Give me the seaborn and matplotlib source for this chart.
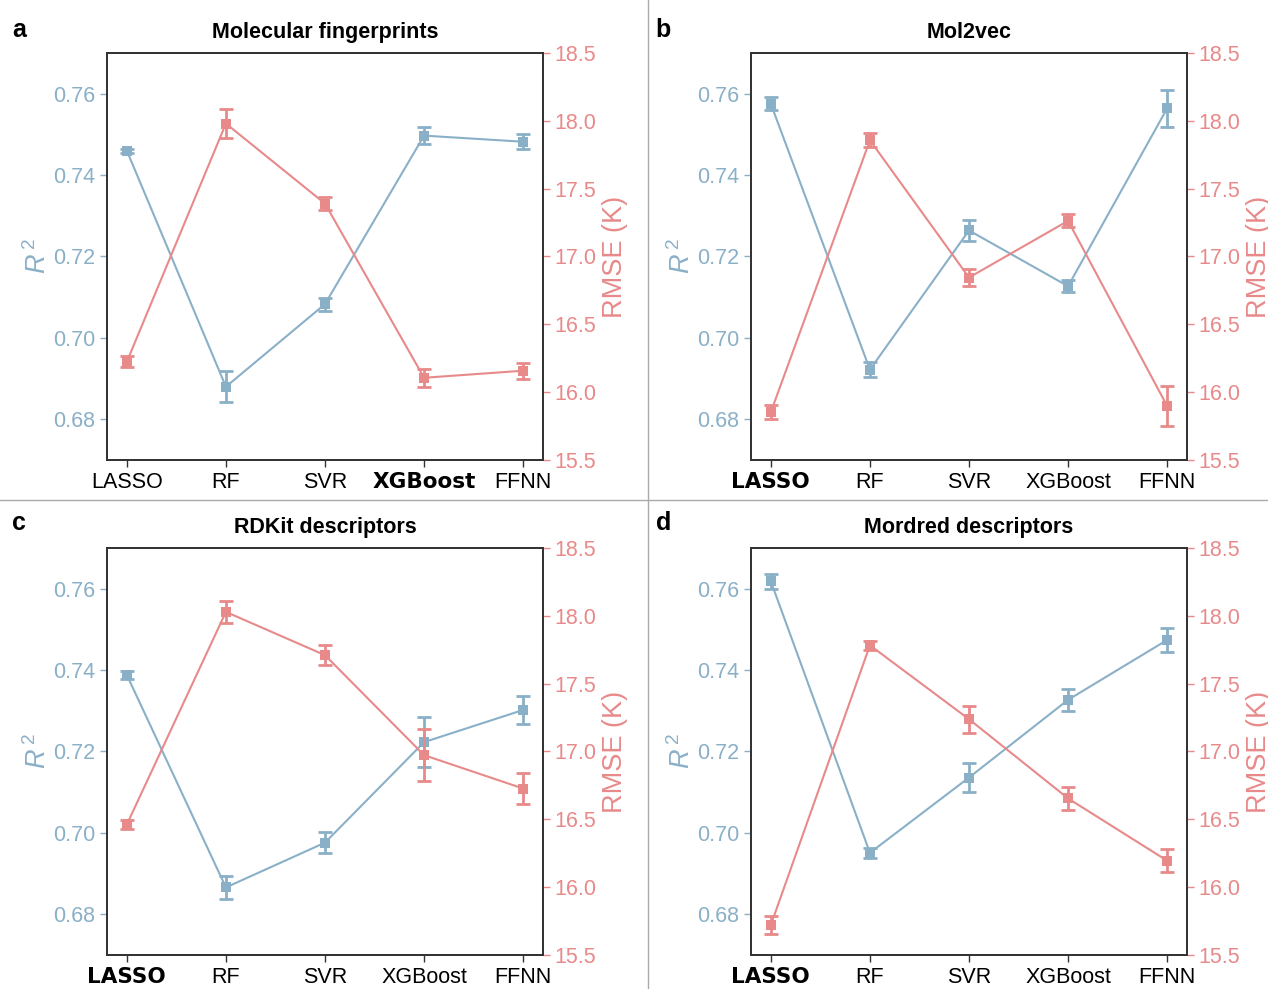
# R2 / RMSE comparison across featurizations and models

import numpy as np
import matplotlib
matplotlib.use('Agg')
import matplotlib.pyplot as plt
import seaborn as sns
from matplotlib.lines import Line2D

sns.set_style('white')
plt.rcParams['font.family'] = ['Liberation Sans', 'DejaVu Sans']
plt.rcParams['mathtext.fontset'] = 'custom'
plt.rcParams['mathtext.rm'] = 'Liberation Sans'
plt.rcParams['mathtext.it'] = 'Liberation Sans:italic'

models = ['LASSO', 'RF', 'SVR', 'XGBoost', 'FFNN']
titles = ['Molecular fingerprints', 'Mol2vec', 'RDKit descriptors', 'Mordred descriptors']
panel_letters = ['a', 'b', 'c', 'd']
best_model = ['XGBoost', 'LASSO', 'LASSO', 'LASSO']

# R2 mean and error, per panel
r2_fp = [0.7460, 0.6880, 0.7083, 0.7497, 0.7482]
r2_fp_err = [0.0005, 0.0038, 0.0016, 0.0020, 0.0018]
r2_m2v = [0.7575, 0.6922, 0.7264, 0.7127, 0.7564]
r2_m2v_err = [0.0016, 0.0018, 0.0025, 0.0015, 0.0046]
r2_rdkit = [0.7388, 0.6866, 0.6976, 0.7223, 0.7302]
r2_rdkit_err = [0.0009, 0.0029, 0.0026, 0.0062, 0.0035]
r2_mordred = [0.7618, 0.6951, 0.7136, 0.7327, 0.7474]
r2_mordred_err = [0.0019, 0.0013, 0.0035, 0.0027, 0.0029]

# RMSE (K) mean and error, per panel
rmse_fp = [16.224, 17.980, 17.390, 16.106, 16.158]
rmse_fp_err = [0.040, 0.110, 0.050, 0.065, 0.060]
rmse_m2v = [15.853, 17.857, 16.845, 17.263, 15.898]
rmse_m2v_err = [0.053, 0.050, 0.066, 0.048, 0.150]
rmse_rdkit = [16.462, 18.029, 17.710, 16.973, 16.727]
rmse_rdkit_err = [0.030, 0.080, 0.075, 0.190, 0.115]
rmse_mordred = [15.721, 17.783, 17.238, 16.654, 16.195]
rmse_mordred_err = [0.064, 0.034, 0.100, 0.086, 0.086]

r2_all = [(r2_fp, r2_fp_err), (r2_m2v, r2_m2v_err), (r2_rdkit, r2_rdkit_err), (r2_mordred, r2_mordred_err)]
rmse_all = [(rmse_fp, rmse_fp_err), (rmse_m2v, rmse_m2v_err), (rmse_rdkit, rmse_rdkit_err), (rmse_mordred, rmse_mordred_err)]

blue = '#8ab0c8'
red = '#e8898a'
spine_col = '#333333'

fig = plt.figure(figsize=(12.68, 9.89), dpi=100)

positions = [
    [0.0844, 0.5349, 0.3438, 0.4115],
    [0.5923, 0.5349, 0.3438, 0.4115],
    [0.0844, 0.0344, 0.3438, 0.4115],
    [0.5923, 0.0344, 0.3438, 0.4115],
]
letter_xy = [(0.0095, 0.970), (0.517, 0.970), (0.0095, 0.471), (0.517, 0.471)]

for i in range(4):
    ax = fig.add_axes(positions[i])
    ax2 = ax.twinx()

    r2, r2_err = r2_all[i]
    rmse, rmse_err = rmse_all[i]

    # R2 series
    sns.lineplot(x=models, y=r2, ax=ax, color=blue, marker='s', markersize=6.5,
                 markeredgewidth=0, linewidth=1.5, sort=False)
    ax.errorbar(models, r2, yerr=r2_err, fmt='none', ecolor=blue,
                elinewidth=2, capsize=5, capthick=2)

    # RMSE series
    sns.lineplot(x=models, y=rmse, ax=ax2, color=red, marker='s', markersize=6.5,
                 markeredgewidth=0, linewidth=1.5, sort=False)
    ax2.errorbar(models, rmse, yerr=rmse_err, fmt='none', ecolor=red,
                 elinewidth=2, capsize=5, capthick=2)

    ax.set_xlim(-0.2, 4.2)
    ax.set_ylim(0.67, 0.77)
    ax.set_yticks([0.68, 0.70, 0.72, 0.74, 0.76])
    ax.set_yticklabels(['0.68', '0.70', '0.72', '0.74', '0.76'])
    ax2.set_ylim(15.5, 18.5)
    ax2.set_yticks([15.5, 16.0, 16.5, 17.0, 17.5, 18.0, 18.5])
    ax2.set_yticklabels(['15.5', '16.0', '16.5', '17.0', '17.5', '18.0', '18.5'])

    ax.tick_params(axis='y', colors=blue, labelsize=15.5, length=5, width=1, direction='out', left=True)
    ax.tick_params(axis='x', colors=spine_col, labelcolor='black', labelsize=15.5, length=5, width=1,
                   direction='out', bottom=True)
    ax2.tick_params(axis='y', colors=red, labelsize=15.5, length=5, width=1, direction='out', right=True)

    for lbl in ax.get_xticklabels():
        if lbl.get_text() == best_model[i]:
            lbl.set_fontweight('bold')
            lbl.set_family('DejaVu Sans')

    ax.set_xlabel('')
    ax.set_ylabel('$\\mathit{R}^{\\,2}$', color=blue, fontsize=19.5, labelpad=1)
    ax2.set_ylabel('RMSE (K)', color=red, fontsize=19.5, labelpad=4)

    for a in (ax, ax2):
        for s in a.spines.values():
            s.set_color(spine_col)
            s.set_linewidth(1.3)

    ax.set_title(titles[i], fontsize=15.5, fontweight='bold', color='black', pad=11)
    fig.text(letter_xy[i][0], letter_xy[i][1], panel_letters[i], fontsize=18,
             fontweight='bold', color='black', ha='left', va='center')

# panel dividers
fig.add_artist(Line2D([0.511, 0.511], [0, 1], color='#aaaaaa', linewidth=1, transform=fig.transFigure))
fig.add_artist(Line2D([0, 1], [0.4944, 0.4944], color='#aaaaaa', linewidth=1, transform=fig.transFigure))

plt.savefig('out.png', dpi=100)
